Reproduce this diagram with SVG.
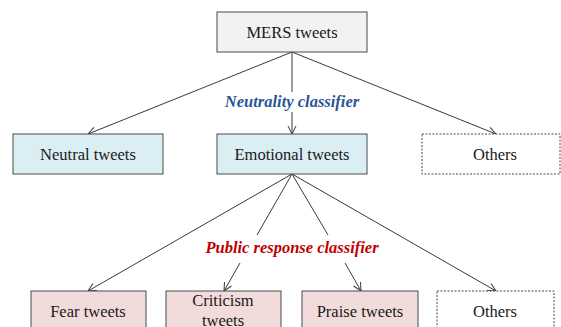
<svg xmlns="http://www.w3.org/2000/svg" width="561" height="327" viewBox="0 0 561 327">
<defs>
<style>
.box{stroke:#4a4a4a;stroke-width:1}
.top{fill:#f2f2f2}
.blue{fill:#dbeef4}
.pink{fill:#f2dcdb}
.dash{fill:#ffffff;stroke-dasharray:2 1.5}
.t{font-family:"Liberation Serif","Times New Roman",serif;font-size:16.5px;fill:#1a1a1a;text-anchor:middle}
.cls{font-family:"Liberation Serif","Times New Roman",serif;font-size:16.5px;font-weight:bold;font-style:italic;text-anchor:middle}
.ln{stroke:#3a3a3a;stroke-width:1;fill:none}
</style>
<marker id="ah" markerWidth="10" markerHeight="10" refX="9" refY="5" orient="auto" markerUnits="userSpaceOnUse">
<path d="M1,1 L9,5 L1,9" fill="none" stroke="#3a3a3a" stroke-width="1"/>
</marker>
</defs>
<rect width="561" height="327" fill="#ffffff"/>
<g id="connectors">
<line class="ln" x1="292" y1="52" x2="88" y2="134" marker-end="url(#ah)"/>
<line class="ln" x1="292" y1="52" x2="292" y2="92"/>
<line class="ln" x1="292" y1="112" x2="292" y2="134" marker-end="url(#ah)"/>
<line class="ln" x1="292" y1="52" x2="496" y2="134" marker-end="url(#ah)"/>
<line class="ln" x1="292" y1="174" x2="88" y2="291" marker-end="url(#ah)"/>
<line class="ln" x1="292" y1="174" x2="257" y2="235"/>
<line class="ln" x1="240" y1="263" x2="224" y2="291" marker-end="url(#ah)"/>
<line class="ln" x1="292" y1="174" x2="328" y2="235"/>
<line class="ln" x1="345" y1="263" x2="361" y2="291" marker-end="url(#ah)"/>
<line class="ln" x1="292" y1="174" x2="496" y2="291" marker-end="url(#ah)"/>
<text class="cls" x="292" y="107" fill="#2a5597">Neutrality classifier</text>
<text class="cls" x="292" y="253" fill="#c00000">Public response classifier</text>
</g>
<g id="mers">
<rect class="box top" x="217" y="12" width="150" height="40"/>
<text class="t" x="292" y="38">MERS tweets</text>
</g>
<g id="neutral">
<rect class="box blue" x="13" y="134" width="150" height="40"/>
<text class="t" x="88" y="160">Neutral tweets</text>
</g>
<g id="emotional">
<rect class="box blue" x="217" y="134" width="150" height="40"/>
<text class="t" x="292" y="160">Emotional tweets</text>
</g>
<g id="others1">
<rect class="box dash" x="422" y="134" width="138" height="40"/>
<text class="t" x="495" y="160">Others</text>
</g>
<g id="fear">
<rect class="box pink" x="31" y="291" width="115" height="40"/>
<text class="t" x="88" y="317">Fear tweets</text>
</g>
<g id="criticism">
<rect class="box pink" x="166" y="291" width="115" height="40"/>
<text class="t" x="223" y="306">Criticism</text>
<text class="t" x="223" y="326">tweets</text>
</g>
<g id="praise">
<rect class="box pink" x="302" y="291" width="116" height="40"/>
<text class="t" x="360" y="317">Praise tweets</text>
</g>
<g id="others2">
<rect class="box dash" x="437" y="291" width="117" height="40"/>
<text class="t" x="495" y="317">Others</text>
</g>
</svg>
